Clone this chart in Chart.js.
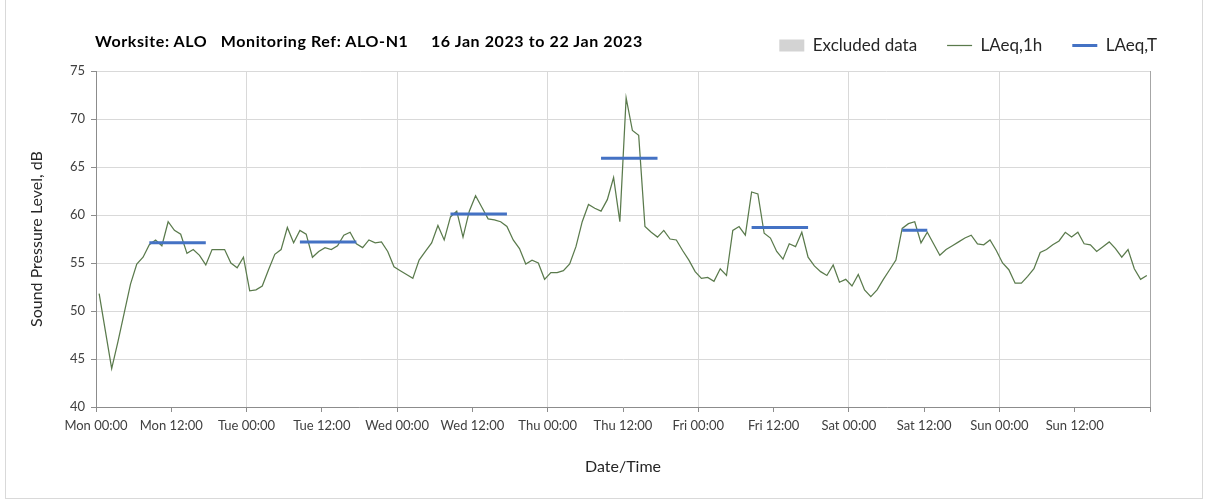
<!DOCTYPE html>
<html>
<head>
<meta charset="utf-8">
<script src="https://cdn.jsdelivr.net/npm/chart.js@4.4.0/dist/chart.umd.min.js"></script>
<style>
  html, body { margin: 0; padding: 0; background: #fff; }
  #wrap { position: relative; width: 1208px; height: 503px; overflow: hidden; }
  #marco { position: absolute; left: 5px; top: -1px; width: 1198px; height: 500px; border: 1px solid #d9d9d9; box-sizing: border-box; }
  #titulo { position: absolute; left: 95px; top: 31px; font: bold 16px Lato, sans-serif; letter-spacing: 0.6px; white-space: pre; color: #000; }
  canvas { position: absolute; left: 0; top: 0; }
</style>
</head>
<body>
<div id="wrap">
  <div id="marco"></div>
  <canvas id="chart" width="1208" height="503"></canvas>
  <div id="titulo">Worksite: ALO   Monitoring Ref: ALO-N1     16 Jan 2023 to 22 Jan 2023</div>
</div>
<script>
const dias = ["Mon", "Tue", "Wed", "Thu", "Fri", "Sat", "Sun"];

// LAeq,1h, un valor por hora desde Mon 00:00
const laeq1h = [
  51.8, 47.9, 44.0, 46.8, 49.8, 52.8, 54.9, 55.6, 56.9, 57.4, 56.8, 59.3, 58.4, 58.0, 56.0, 56.4, 55.8, 54.8, 56.4, 56.4, 56.4, 55.0, 54.5, 55.6,
  52.1, 52.2, 52.6, 54.3, 55.9, 56.4, 58.7, 57.1, 58.4, 58.0, 55.6, 56.2, 56.6, 56.4, 56.8, 57.9, 58.2, 57.0, 56.6, 57.4, 57.1, 57.2, 56.2, 54.6,
  54.2, 53.8, 53.4, 55.3, 56.2, 57.1, 58.9, 57.4, 59.8, 60.4, 57.7, 60.4, 62.0, 60.8, 59.6, 59.5, 59.3, 58.8, 57.4, 56.5, 54.9, 55.3, 55.0, 53.3,
  54.0, 54.0, 54.2, 54.9, 56.7, 59.3, 61.1, 60.7, 60.4, 61.6, 63.9, 59.3, 72.2, 68.8, 68.3, 58.8, 58.2, 57.7, 58.4, 57.5, 57.4, 56.3, 55.3, 54.1,
  53.4, 53.5, 53.1, 54.4, 53.7, 58.4, 58.8, 57.9, 62.4, 62.2, 58.1, 57.6, 56.2, 55.4, 57.0, 56.7, 58.2, 55.6, 54.7, 54.1, 53.7, 54.8, 53.0, 53.3,
  52.6, 53.8, 52.2, 51.5, 52.2, 53.3, 54.3, 55.3, 58.6, 59.1, 59.3, 57.1, 58.2, 57.0, 55.8, 56.4, 56.8, 57.2, 57.6, 57.9, 57.0, 56.9, 57.4, 56.3,
  55.0, 54.3, 52.9, 52.9, 53.6, 54.4, 56.1, 56.4, 56.9, 57.3, 58.2, 57.7, 58.2, 57.0, 56.9, 56.2, 56.7, 57.2, 56.5, 55.6, 56.4, 54.4, 53.3, 53.7
];

// LAeq,T por periodo (horas desde Mon 00:00)
const periodoInicio = [8.5, 32.5, 56.5, 80.5, 104.5, 128.5];
const periodoFin = [17.5, 41.5, 65.5, 89.5, 113.5, 132.5];
const laeqT = [57.1, 57.2, 60.1, 65.9, 58.7, 58.4];

const puntos1h = laeq1h.map((v, i) => ({ x: i + 0.5, y: v }));
const puntosT = [];
laeqT.forEach((v, i) => {
  puntosT.push({ x: periodoInicio[i], y: v });
  puntosT.push({ x: periodoFin[i], y: v });
  puntosT.push({ x: periodoFin[i], y: null });
});

const gris = "#8c8c8c";

new Chart(document.getElementById("chart"), {
  type: "line",
  data: {
    datasets: [
      {
        label: "Excluded data",
        data: [],
        backgroundColor: "#d3d3d3",
        borderColor: "#d3d3d3",
        borderWidth: 0,
        estilo: "rect",
      },
      {
        label: "LAeq,1h",
        data: puntos1h,
        borderColor: "#5a7a4c",
        backgroundColor: "#5a7a4c",
        borderWidth: 1.25,
        pointRadius: 0,
        order: 1,
        estilo: "line",
      },
      {
        label: "LAeq,T",
        data: puntosT,
        borderColor: "#4472c4",
        backgroundColor: "#4472c4",
        borderWidth: 3,
        pointRadius: 0,
        spanGaps: false,
        order: 0,
        estilo: "line",
      },
    ],
  },
  options: {
    responsive: false,
    animation: false,
    devicePixelRatio: 1,
    layout: { padding: { top: 7, right: 21, left: 0, bottom: 0 } },
    plugins: {
      tooltip: { enabled: false },
      legend: {
        position: "top",
        align: "end",
        labels: {
          usePointStyle: true,
          pointStyleWidth: 25,
          boxWidth: 25,
          boxHeight: 12,
          padding: 30,
          color: "#262626",
          font: { family: "Lato", size: 17 },
          generateLabels: (chart) =>
            chart.data.datasets.map((ds, i) => ({
              text: ds.label,
              fillStyle: ds.backgroundColor,
              strokeStyle: ds.borderColor,
              lineWidth: ds.borderWidth,
              pointStyle: ds.estilo,
              hidden: false,
              datasetIndex: i,
              fontColor: "#262626",
            })),
        },
      },
    },
    scales: {
      x: {
        type: "linear",
        min: 0,
        max: 168,
        afterFit: (s) => { s.height = 96; },
        ticks: {
          stepSize: 12,
          autoSkip: false,
          maxRotation: 0,
          padding: 6,
          color: "#404040",
          font: { family: "Lato", size: 13 },
          callback: (v) => (v >= 168 ? "" : dias[Math.floor(v / 24)] + (v % 24 ? " 12:00" : " 00:00")),
        },
        grid: {
          color: (ctx) => {
            const v = ctx.tick ? ctx.tick.value : 0;
            if (v === 168) return "#a6a6a6";
            return v % 24 === 0 ? "#d9d9d9" : "rgba(0,0,0,0)";
          },
          tickColor: gris,
          tickLength: 5,
        },
        border: { color: gris },
        title: {
          display: true,
          text: "Date/Time",
          color: "#262626",
          font: { family: "Lato", size: 16 },
          padding: { top: 0, bottom: 27 },
        },
      },
      x2: {
        type: "linear",
        position: "top",
        afterFit: (s) => { s.height = 7; },
        grid: { display: false, drawTicks: false },
        border: { display: false },
        ticks: { display: false },
      },
      y: {
        min: 40,
        max: 75,
        afterFit: (s) => { s.width = 96; },
        ticks: {
          stepSize: 5,
          padding: 6,
          color: "#404040",
          font: { family: "Lato", size: 13 },
        },
        grid: { color: "#d9d9d9", tickColor: gris, tickLength: 5 },
        border: { color: gris },
        title: {
          display: true,
          text: "Sound Pressure Level, dB",
          color: "#262626",
          font: { family: "Lato", size: 16 },
          padding: { top: 27, bottom: 0 },
        },
      },
      y2: {
        position: "right",
        afterFit: (s) => { s.width = 37; },
        grid: { display: false, drawTicks: false },
        border: { display: false },
        ticks: { display: false },
      },
    },
  },
});
</script>
</body>
</html>
